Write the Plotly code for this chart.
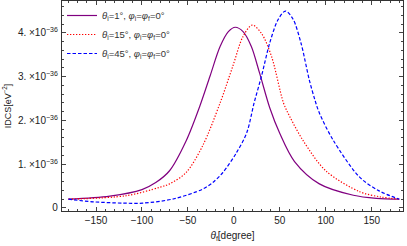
import plotly.graph_objects as go

# theta_i = 1 deg
x1 = [-180, -135, -100, -85, -70, -52, -37, -26, -15, -6, 1.5, 10, 19, 28, 39, 50, 66, 93, 130, 155, 180]
y1 = [0.20, 0.27, 0.42, 0.58, 0.85, 1.53, 2.33, 3.01, 3.69, 4.03, 4.13, 4.03, 3.69, 3.08, 2.29, 1.70, 1.06, 0.55, 0.29, 0.22, 0.20]
# theta_i = 15 deg
x2 = [-180, -117, -81, -70, -52, -34, -15, -1, 10, 20, 30, 41, 54, 61, 75, 100, 137, 160, 180]
y2 = [0.20, 0.28, 0.47, 0.55, 0.81, 1.42, 2.40, 3.25, 3.92, 4.18, 3.99, 3.46, 2.40, 2.08, 1.55, 0.85, 0.37, 0.25, 0.20]
# theta_i = 45 deg
x3 = [-180, -153, -120, -99, -65, -34, -23, -12, 3, 14, 22, 30, 39, 48, 56, 64, 73, 82, 88, 93, 108, 137, 158, 180]
y3 = [0.20, 0.14, 0.11, 0.11, 0.21, 0.43, 0.58, 0.81, 1.27, 1.72, 2.40, 3.01, 3.77, 4.30, 4.50, 4.33, 3.77, 2.93, 2.48, 2.17, 1.55, 0.70, 0.39, 0.20]

scale = 1e-36
names = [
    "<i>θ</i><sub>i</sub>=1°, <i>φ</i><sub>i</sub>=<i>φ</i><sub>f</sub>=0°",
    "<i>θ</i><sub>i</sub>=15°, <i>φ</i><sub>i</sub>=<i>φ</i><sub>f</sub>=0°",
    "<i>θ</i><sub>i</sub>=45°, <i>φ</i><sub>i</sub>=<i>φ</i><sub>f</sub>=0°",
]
xticks = [-150, -100, -50, 0, 50, 100, 150]
yticks = [0, 1, 2, 3, 4]
ylabels = ["0"] + [f"{v}. ×10<sup>−36</sup>" for v in yticks[1:]]

FONT = "Liberation Sans, Arial, sans-serif"
fig = go.Figure()
styles = [("#800080", "solid"), ("#FF0000", "1.3px,1.7px"), ("#0000FF", "3.5px,2px")]
for (xs, ys), name, (c, d) in zip([(x1, y1), (x2, y2), (x3, y3)], names, styles):
    fig.add_trace(go.Scatter(
        x=xs, y=[v * scale for v in ys], mode="lines", name=name,
        line=dict(color=c, dash=d, width=1.2, shape="spline", smoothing=0.9),
    ))

axis_common = dict(
    showgrid=False, zeroline=False, showline=True, linecolor="#333333", linewidth=1.3,
    mirror="ticks", ticks="inside", ticklen=4, tickwidth=0.8, tickcolor="#444444",
    tickfont=dict(family=FONT, size=10, color="#222222"),
)
fig.update_xaxes(
    range=[-187, 184], tickvals=xticks, ticktext=[str(t).replace("-", "−") for t in xticks],
    minor=dict(dtick=10, ticks="inside", ticklen=2, tickcolor="#444444", showgrid=False),
    title=dict(text="<i>θ</i><sub>f</sub>[degree]", standoff=6,
               font=dict(family=FONT, size=10, color="#222222")),
    **axis_common,
)
fig.update_yaxes(
    range=[-0.07 * scale, 4.73 * scale], tickvals=[v * scale for v in yticks], ticktext=ylabels,
    ticklabelstandoff=1,
    minor=dict(dtick=0.2 * scale, tick0=0, ticks="inside", ticklen=2, tickcolor="#444444", showgrid=False),
    title=dict(text="IDCS[eV<sup>−2</sup>]", standoff=4,
               font=dict(family=FONT, size=9, color="#222222")),
    **axis_common,
)
fig.update_layout(
    width=407, height=246, margin=dict(l=62, r=4, t=1, b=35),
    paper_bgcolor="white", plot_bgcolor="white",
    legend=dict(x=0.0, y=1.0, xanchor="left", yanchor="top", bgcolor="rgba(0,0,0,0)",
                font=dict(family=FONT, size=9.5, color="#333333"),
                tracegroupgap=0),
    showlegend=True,
)
fig.write_html("out.html", config={"displayModeBar": False},
               post_script="document.body.style.margin='0';document.body.style.padding='0';")
